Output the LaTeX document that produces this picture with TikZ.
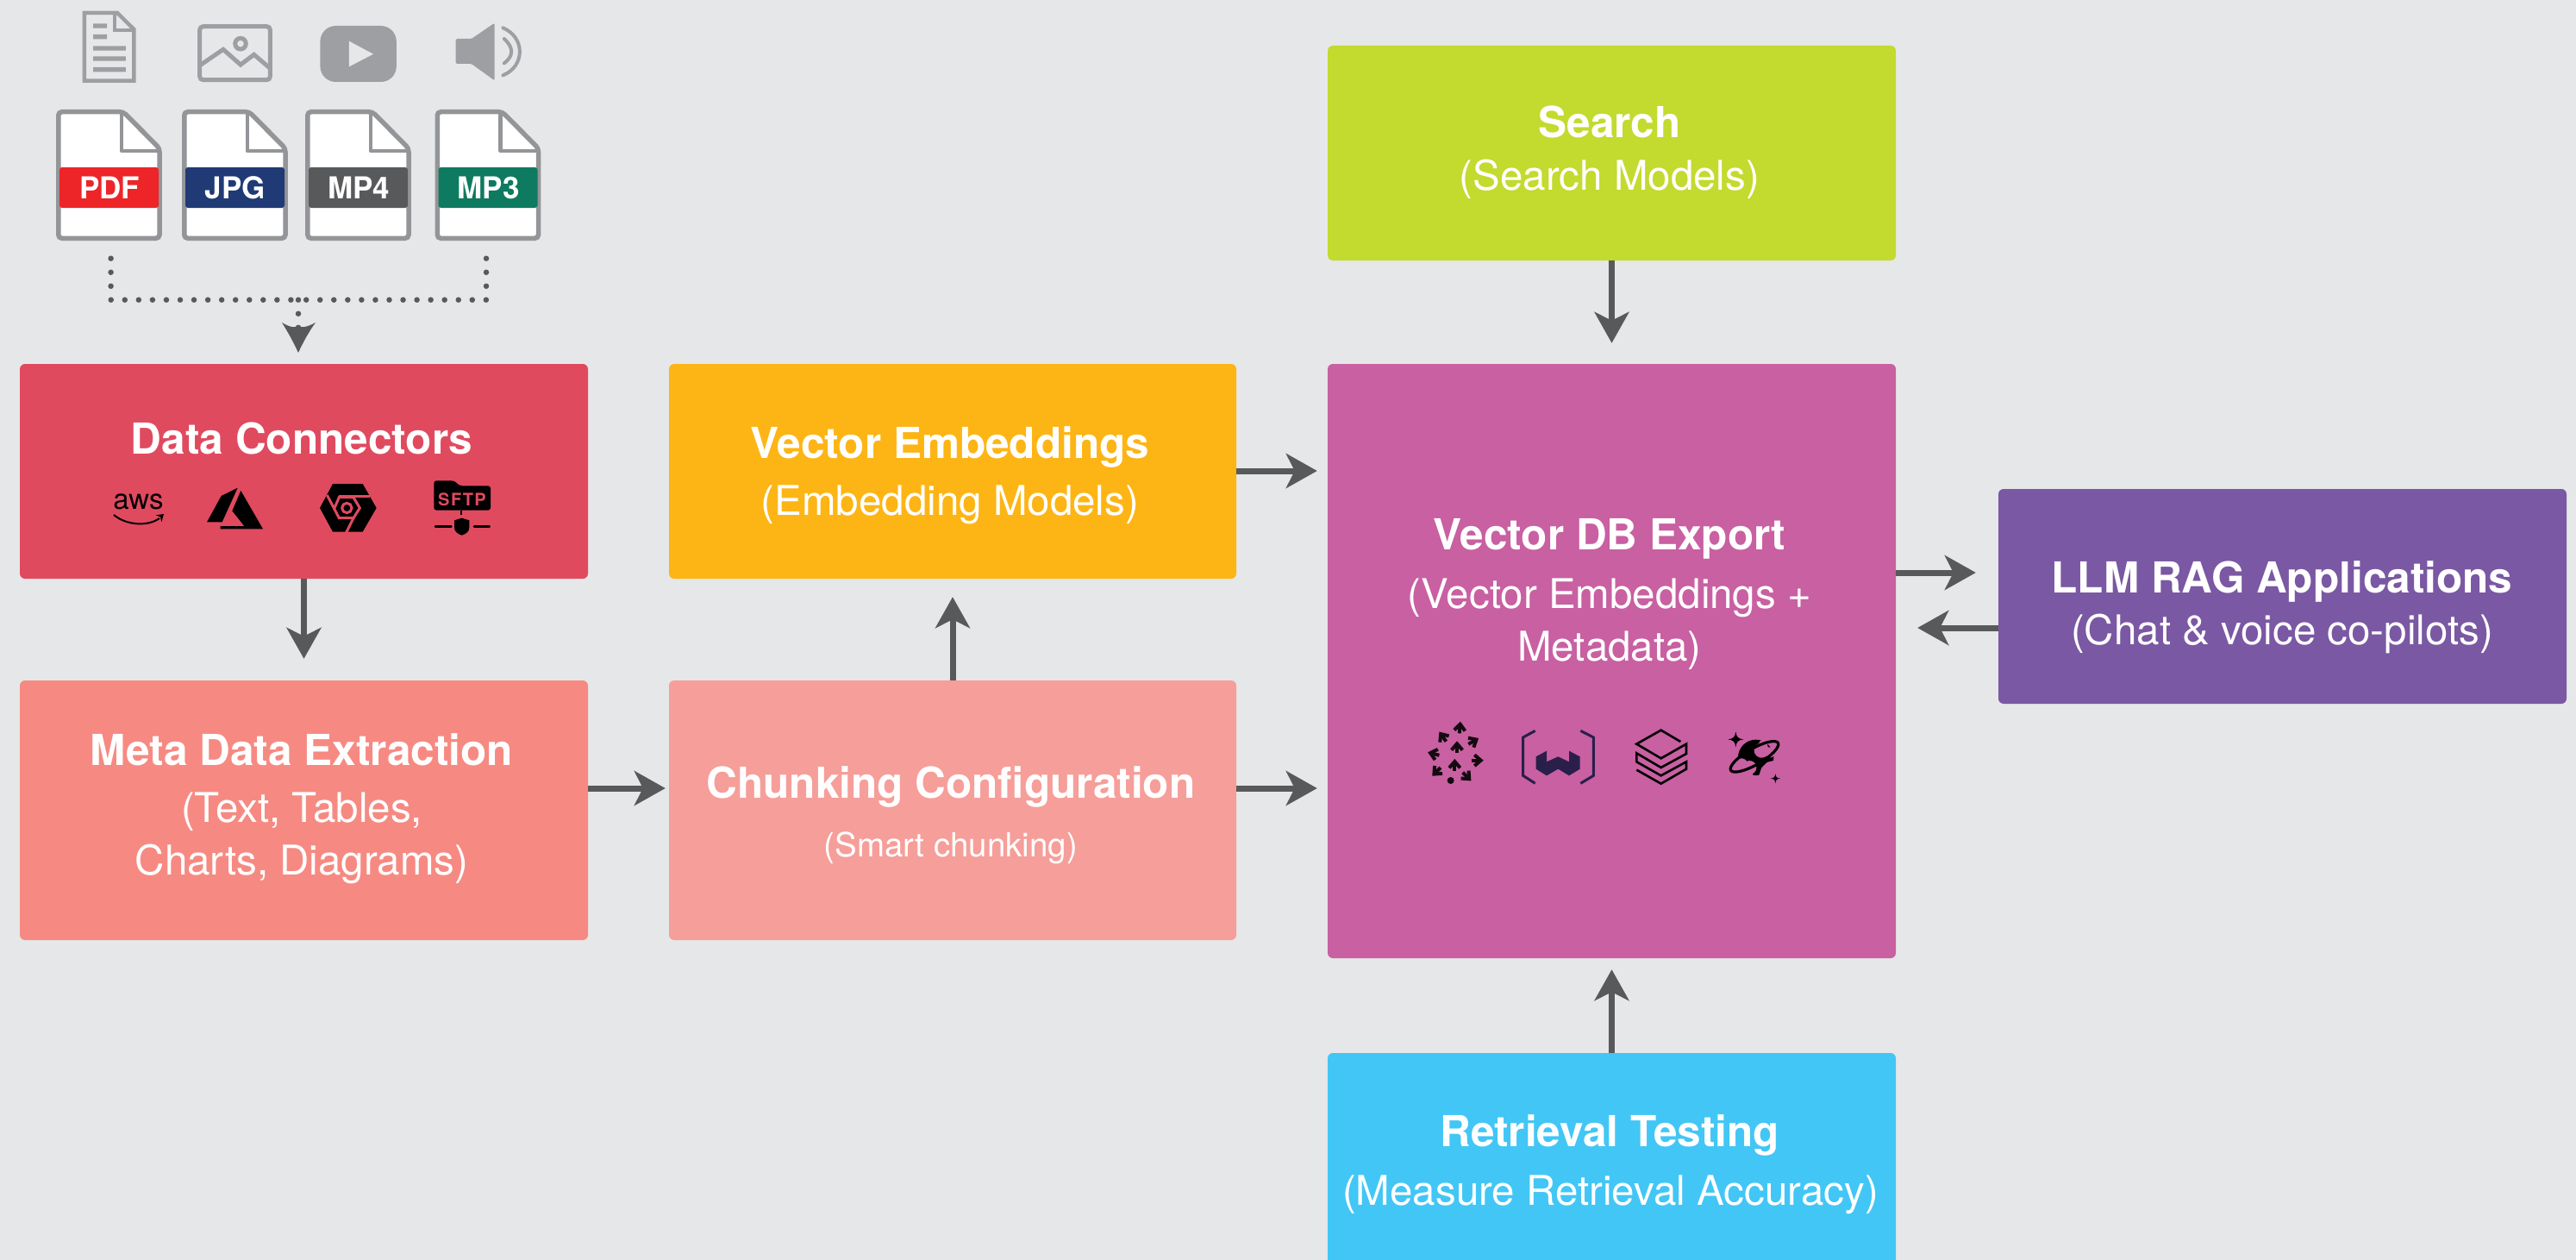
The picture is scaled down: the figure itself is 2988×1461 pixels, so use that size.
\documentclass[tikz,border=0pt]{standalone}
\usepackage{fontspec}
\setmainfont{TeX Gyre Heros}
\usetikzlibrary{arrows.meta,calc}
\definecolor{bgc}{HTML}{E6E7E9}
\definecolor{arrowc}{HTML}{58595B}
\definecolor{icong}{HTML}{9D9FA2}
\definecolor{fileg}{HTML}{939598}
\definecolor{dcc}{HTML}{E04A5F}
\definecolor{metac}{HTML}{F68A82}
\definecolor{chunkc}{HTML}{F69E99}
\definecolor{vec}{HTML}{FDB515}
\definecolor{searchc}{HTML}{C3DA2E}
\definecolor{dbc}{HTML}{C860A2}
\definecolor{llmc}{HTML}{7A58A3}
\definecolor{retc}{HTML}{42C6F6}
\definecolor{wvc}{HTML}{2A1F4B}
\definecolor{pdfc}{HTML}{ED2528}
\definecolor{jpgc}{HTML}{203A76}
\definecolor{mpfc}{HTML}{58595B}
\definecolor{mptc}{HTML}{0E7A60}
\newcommand{\tfont}{\fontsize{49.5}{60}\selectfont\bfseries}
\newcommand{\sfont}{\fontsize{47.5}{56}\selectfont}
\tikzset{
  box/.style={rounded corners=6pt,inner sep=0pt},
  ttl/.style={anchor=base,text=white,font=\tfont,inner sep=0pt},
  sub/.style={anchor=base,text=white,font=\sfont,inner sep=0pt},
  arr/.style={draw=arrowc,line width=7pt,-{Stealth[length=36pt,width=40pt,inset=10pt]}},
  dotted line/.style={draw=arrowc,line width=6.5pt,line cap=round,dash pattern=on 0pt off 16.05pt},
  brick/.style={draw=black,line width=2.6pt,line join=miter},
}
\newcommand{\fileicon}[4]{%
  \begin{scope}[shift={(#2,0)}]
    \draw[fill=white,draw=fileg,line width=5.5pt,rounded corners=4pt]
      (2.75,129.75) -- (78,129.75) -- (120,172) -- (120,276.25) -- (2.75,276.25) -- cycle;
    \draw[draw=fileg,line width=4.5pt,line join=round]
      (76,131) -- (76,175) -- (119,175);
    \fill[#3,rounded corners=3pt] (4,194) rectangle (119,241);
    \node[anchor=base,text=white,inner sep=0pt,font=\fontsize{35}{40}\selectfont\bfseries] (#1) at (62,230) {#4};
  \end{scope}}
\newcommand{\chev}[3]{%
  \begin{scope}[shift={(#1,#2)},rotate=-#3]
    \draw[black!90!dbc,line width=4pt,line join=miter] (-19,11) -- (0,-11) -- (19,11);
    \draw[black!90!dbc,line width=4pt] (0,-8) -- (0,21);
  \end{scope}}
\begin{document}
\begin{tikzpicture}[x=1pt,y=-1pt]
\useasboundingbox (0,0) rectangle (2988,1461);
\fill[bgc] (0,0) rectangle (2988,1461);

% boxes
\node[box,fill=dcc,minimum width=659pt,minimum height=249pt] (dc) at (352.5,546.5) {};
\node[box,fill=metac,minimum width=659pt,minimum height=301pt] (meta) at (352.5,939.5) {};
\node[box,fill=vec,minimum width=658pt,minimum height=249pt] (ve) at (1105,546.5) {};
\node[box,fill=chunkc,minimum width=658pt,minimum height=301pt] (chunk) at (1105,939.5) {};
\node[box,fill=searchc,minimum width=659pt,minimum height=249pt] (search) at (1869.5,177.5) {};
\node[box,fill=dbc,minimum width=659pt,minimum height=689pt] (db) at (1869.5,766.5) {};
\node[box,fill=retc,minimum width=659pt,minimum height=250pt] (ret) at (1869.5,1346) {};
\node[box,fill=llmc,minimum width=659pt,minimum height=249pt] (llm) at (2647.5,691.5) {};
\fill[retc] (1540,1440) rectangle (2199,1461);

% texts
\node[ttl] (t1) at (350,526) {Data Connectors};
\node[ttl] (t2) at (1102,531) {Vector Embeddings};
\node[sub] (t2b) at (1102,597) {(Embedding Models)};
\node[ttl] (t3) at (1867,160) {Search};
\node[sub] (t3b) at (1867,220) {(Search Models)};
\node[ttl] (t4) at (350,887) {Meta Data Extraction};
\node[sub] (t4b) at (350,953) {(Text, Tables,};
\node[sub] (t4c) at (350,1014) {Charts, Diagrams)};
\node[ttl] (t5) at (1103,925) {Chunking Configuration};
\node[anchor=base,text=white,inner sep=0pt,font=\fontsize{38.5}{44}\selectfont] (t5b) at (1103,993) {(Smart chunking)};
\node[ttl] (t6) at (1867,637) {Vector DB Export};
\node[sub] (t6b) at (1867,705) {(Vector Embeddings +};
\node[sub] (t6c) at (1867,766) {Metadata)};
\node[ttl] (t7) at (2647,687) {LLM RAG Applications};
\node[sub] (t7b) at (2647,747) {(Chat \& voice co-pilots)};
\node[ttl] (t8) at (1867,1329) {Retrieval Testing};
\node[sub] (t8b) at (1868,1397) {(Measure Retrieval Accuracy)};

% connectors
\coordinate (rowa) at (0,546);
\coordinate (rowb) at (0,914);
\coordinate (rowc) at (0,664);
\coordinate (rowd) at (0,728);
\draw[arr,shorten >=25pt] (dc.south) -- (meta.north);
\draw[arr,shorten >=4pt] (meta.east |- rowb) -- (chunk.west |- rowb);
\draw[arr,shorten >=21pt] (chunk.north) -- (ve.south);
\draw[arr,shorten >=12pt] (ve.east |- rowa) -- (db.west |- rowa);
\draw[arr,shorten >=12pt] (chunk.east |- rowb) -- (db.west |- rowb);
\draw[arr,shorten >=24pt] (search.south) -- (db.north);
\draw[arr,shorten >=13pt] (ret.north) -- (db.south);
\draw[arr,shorten >=26pt] (db.east |- rowc) -- (llm.west |- rowc);
\draw[arr,shorten >=25pt] (llm.west |- rowd) -- (db.east |- rowd);

% file icons
\fileicon{pdf}{65}{pdfc}{PDF}
\fileicon{jpg}{211}{jpgc}{JPG}
\fileicon{mpf}{354}{mpfc}{MP4}
\fileicon{mpt}{504.5}{mptc}{MP3}

% dotted collector
\coordinate (da) at (128.6,299.7);
\coordinate (db1) at (128.6,347.7);
\coordinate (dc1) at (564,299.7);
\coordinate (dc2) at (564,347.7);
\coordinate (dm) at (346,347.7);
\draw[dotted line] (da) -- (db1) -- (dm);
\draw[dotted line] (dc1) -- (dc2) -- (dm);
\draw[dotted line] (dm) -- ($(dm)+(0,33)$);
\path[fill=arrowc] (327,374) .. controls (337,380) and (342,380) .. (346,378) .. controls (350,380) and (355,380) .. (366,374) .. controls (358,385) and (351,398) .. (346,409) .. controls (341,398) and (334,385) .. (327,374) -- cycle;

% top pictograms (crop units: x/2.24, y/3)
\begin{scope}[xscale=1/2.24,yscale=1/3]
  % document
  \draw[icong,line width=4.5pt,line join=miter] (219,45) -- (305,45) -- (348,102) -- (348,281) -- (219,281) -- cycle;
  \draw[icong,line width=4pt,line join=miter] (298,50) -- (298,105) -- (345,105);
  \fill[icong] (242,82) rectangle (278,98) (242,120) rectangle (278,136) (242,160) rectangle (327,176) (242,196) rectangle (327,212) (242,234) rectangle (327,250);
  % image
  \draw[icong,line width=5pt,rounded corners=4pt] (519,92) rectangle (702,278);
  \draw[icong,line width=5pt,line join=miter] (522,225) -- (580,172) -- (625,225) -- (660,190) -- (702,238);
  \draw[icong,line width=5pt] (625,152) ellipse [x radius=14,y radius=19];
  % play
  \fill[icong,rounded corners=18pt] (832,90) rectangle (1030,285);
  \fill[bgc] (907,143) -- (970,188) -- (907,232) -- cycle;
  % speaker
  \fill[icong,rounded corners=1.5pt] (1184,135) -- (1225,135) -- (1285,80) -- (1285,280) -- (1225,222) -- (1184,222) -- cycle;
  \draw[icong,line width=4pt,line cap=round] (1307,97) .. controls (1365,130) and (1365,230) .. (1307,262);
  \draw[icong,line width=4pt,line cap=round] (1310,135) .. controls (1335,165) and (1335,195) .. (1310,220);
\end{scope}

% connector logos (crop units, origin 100,420, factor 3)
\node[anchor=base,inner sep=0pt,text=black,font=\fontsize{33}{40}\selectfont] (aws) at (160.5,590) {aws};
\begin{scope}[shift={(100,420)},scale=1/3]
  \draw[black,line width=2pt] (96,531) .. controls (140,568) and (215,572) .. (255,543);
  \fill[black] (242,532) -- (270,528) -- (262,556) -- (258,538) -- cycle;
  % azure
  \fill[black] (527,437) -- (470,465) -- (420,556) -- (473,556) -- cycle;
  \fill[black] (538,447) -- (615,580) -- (467,580) -- (467,570) -- (550,570) -- (508,517) -- cycle;
\end{scope}
\begin{scope}[shift={(360,550)},scale=1/3]
  % cloud hexagon
  \fill[black] (33,117) -- (78,33) -- (182,33) -- (230,117) -- (182,200) -- (78,200) -- cycle;
  \draw[dcc,line width=3pt,line join=miter] (58,72) -- (100,152) -- (150,152) -- (172,117) -- (150,80) -- (100,80) -- (84,117);
  \draw[dcc,line width=3pt] (100,75) -- (208,75);
  \draw[dcc,line width=3pt] (150,152) -- (125,202);
  \draw[dcc,line width=3pt] (127,117) circle [radius=17];
\end{scope}
\begin{scope}[shift={(495,550)},scale=1/3]
  % SFTP
  \fill[black,rounded corners=3pt] (25,22) -- (95,22) -- (115,40) -- (222,40) -- (222,125) -- (25,125) -- cycle;
  \fill[black] (116,125) rectangle (124,142);
  \draw[black,line width=2.8pt,line cap=round] (30,182) -- (85,182) (165,182) -- (218,182);
  \fill[black] (122,152) -- (148,160) -- (148,185) .. controls (148,200) and (135,208) .. (122,212) .. controls (109,208) and (96,200) .. (96,185) -- (96,160) -- cycle;
\end{scope}
\node[anchor=base,inner sep=0pt,text=dcc,font=\fontsize{20}{22}\selectfont\bfseries] (sftp) at (536,586.5) {S\kern1.5pt F\kern1.5pt T\kern1.5pt P};

% vector db logos
\begin{scope}[shift={(1650,830)},scale=1/3]
  \chev{130}{40}{5}
  \chev{70}{72}{-35}
  \chev{178}{88}{60}
  \chev{38}{132}{-75}
  \chev{192}{155}{90}
  \chev{48}{195}{-135}
  \chev{155}{212}{135}
  \chev{120}{108}{0}
  \chev{112}{170}{0}
  \fill[black!90!dbc] (98,225) circle [radius=12];
\end{scope}
\begin{scope}[shift={(1620,800)},scale=1/3]
  % weaviate
  \draw[wvc,line width=3pt,line join=miter] (482,142) -- (440,165) -- (440,298) -- (482,325);
  \draw[wvc,line width=3pt,line join=miter] (640,142) -- (685,165) -- (685,298) -- (640,325);
  \fill[wvc] (485,232) -- (522,212) -- (522,250) -- (562,232) -- (600,250) -- (600,212) -- (638,232) -- (638,275) -- (600,298) -- (562,275) -- (522,298) -- (485,275) -- cycle;
  % databricks
  \draw[brick] (988,180) -- (920,140) -- (835,188) -- (920,238) -- (1008,188) -- (1008,222) -- (920,270) -- (835,220) -- (835,250) -- (920,298) -- (1008,250) -- (1008,275) -- (920,326) -- (835,278);
\end{scope}
\begin{scope}[shift={(1990,835)},scale=1/3]
  % cosmos
  \fill[black] (70,40) .. controls (72,58) and (78,65) .. (97,67) .. controls (78,69) and (72,76) .. (70,94) .. controls (68,76) and (62,69) .. (43,67) .. controls (62,65) and (68,58) .. (70,40) -- cycle;
  \fill[black] (208,186) .. controls (209,198) and (213,202) .. (225,203) .. controls (213,204) and (209,208) .. (208,220) .. controls (207,208) and (203,204) .. (191,203) .. controls (203,202) and (207,198) .. (208,186) -- cycle;
  \fill[black] (140,130) circle [radius=62];
  \fill[dbc] (160,105) circle [radius=26] (190,112) circle [radius=18] (165,85) circle [radius=16];
  \fill[dbc] (90,155) circle [radius=22] (118,165) circle [radius=24] (100,190) circle [radius=30];
  \fill[dbc] (205,140) -- (165,150) -- (150,195) -- (200,195) -- cycle;
  \draw[black,line width=3.2pt,rotate around={30:(135,127)}] (135,127) ellipse [x radius=95,y radius=28];
  \fill[black] (150,175) -- (185,140) -- (160,150) -- cycle;
\end{scope}
\end{tikzpicture}
\end{document}
